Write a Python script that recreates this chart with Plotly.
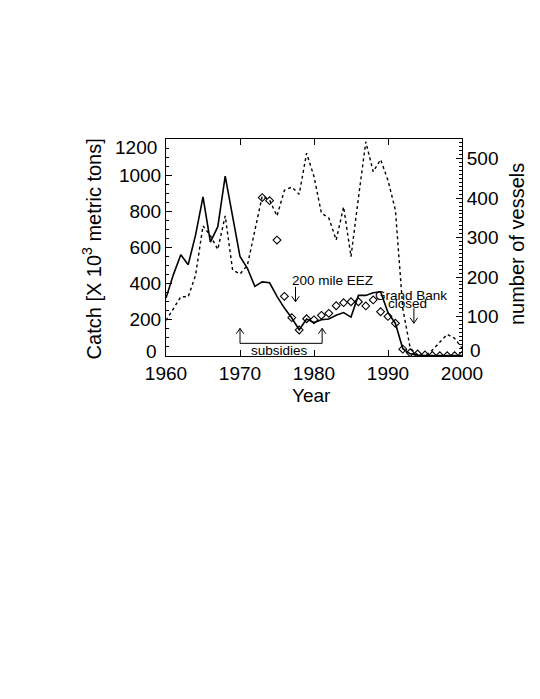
import plotly.graph_objects as go

# ---- data ----
years = list(range(1960, 2001))
catch_line = [320, 450, 560, 505, 670, 880, 630, 715, 995, 770,
              550, 485, 385, 410, 405, 330, 265, 210, 145, 205,
              185, 200, 205, 225, 240, 215, 335, 335, 350, 355,
              240, 180, 40, 12, 5, 3, 3, 3, 3, 3, 3]
vessels = [90, 120, 150, 150, 205, 330, 305, 270, 355, 218,
           208, 230, 320, 405, 395, 355, 420, 428, 410, 514,
           455, 362, 350, 294, 378, 252, 400, 543, 467, 498,
           445, 370, 120, 20, 3, 0, 15, 35, 55, 45, 20]
diamond_years = list(range(1973, 2001))
catch_diamonds = [876, 859, 641, 330, 212, 144, 206, 200, 225, 236,
                  278, 295, 300, 300, 277, 310, 245, 219, 181, 38,
                  18, 11, 6, 3, 2, 2, 2, 3]

x_ticks = [1960, 1970, 1980, 1990, 2000]
left_ticks = [0, 200, 400, 600, 800, 1000, 1200]
right_ticks = [0, 100, 200, 300, 400, 500]

FONT = "Liberation Sans, Arial, Helvetica, sans-serif"

fig = go.Figure()
fig.add_trace(go.Scatter(x=years, y=catch_line, mode="lines",
                         line=dict(color="black", width=1.6), yaxis="y"))
fig.add_trace(go.Scatter(x=years, y=vessels, mode="lines",
                         line=dict(color="black", width=1.4, dash="dot"), yaxis="y2"))
fig.add_trace(go.Scatter(x=diamond_years, y=catch_diamonds, mode="markers",
                         marker=dict(symbol="diamond-open", size=6, color="black",
                                     line=dict(width=1.1)), yaxis="y"))

# annotation anchors (data coordinates of the left axis)
EEZ_X, EEZ_TOP, EEZ_TIP = 1977.5, 383, 300
GB_X, GB_TOP, GB_TIP = 1993.5, 265, 181
SUB_L, SUB_R, SUB_LOW, SUB_TIP = 1970.0, 1981.1, 70, 153
HEAD_DX, HEAD_DY = 0.5, 30

shapes = []
def arrow(x, y_tail, y_tip):
    shapes.append(dict(type="line", xref="x", yref="y", x0=x, x1=x,
                       y0=y_tail, y1=y_tip, line=dict(color="black", width=1)))
    wy = y_tip + HEAD_DY if y_tail > y_tip else y_tip - HEAD_DY
    shapes.append(dict(type="path", xref="x", yref="y",
                       path=f"M {x - HEAD_DX},{wy} L {x},{y_tip} L {x + HEAD_DX},{wy}",
                       line=dict(color="black", width=1)))

arrow(EEZ_X, EEZ_TOP, EEZ_TIP)
arrow(GB_X, GB_TOP, GB_TIP)
arrow(SUB_L, SUB_LOW, SUB_TIP)
arrow(SUB_R, SUB_LOW, SUB_TIP)
shapes.append(dict(type="line", xref="x", yref="y", x0=SUB_L, x1=SUB_R,
                   y0=SUB_LOW, y1=SUB_LOW, line=dict(color="black", width=1)))

ann = []
def label(text, x, y, size=13.5, xanchor="center"):
    ann.append(dict(x=x, y=y, xref="x", yref="y", text=text, showarrow=False,
                    xanchor=xanchor, yanchor="middle",
                    font=dict(family=FONT, size=size, color="black")))

label("200 mile EEZ", 1982.5, 415)
label("Grand Bank", 1993.1, 337)
label("closed", 1992.7, 288)
label("subsidies", 1975.4, 29)

def paper_text(text, x, y, size, xanchor="center", angle=0):
    ann.append(dict(x=x, y=y, xref="paper", yref="paper", text=text,
                    textangle=angle, showarrow=False, xanchor=xanchor,
                    yanchor="middle", font=dict(family=FONT, size=size, color="black")))

# axis titles
paper_text("Catch [X 10<sup>3</sup> metric tons]", -0.252, 0.493, 20, angle=-90)
paper_text("number of vessels", 1.186, 0.516, 20, angle=-90)
paper_text("Year", 0.492, -0.18, 19)
# end tick labels nudged inward, as in the original
paper_text("0", -0.0236, 0.023, 19, xanchor="right")
paper_text("1200", -0.0236, 0.963, 19, xanchor="right")
paper_text("0", 1.02, 0.024, 19, xanchor="left")

fig.update_layout(
    width=540, height=699,
    margin=dict(l=158, r=86, t=131, b=351),
    paper_bgcolor="white", plot_bgcolor="white",
    showlegend=False,
    font=dict(family=FONT, size=19, color="black"),
    annotations=ann, shapes=shapes,
    xaxis=dict(range=[1960, 2000], tickvals=x_ticks, ticks="inside", ticklen=6,
               tickwidth=1, tickcolor="black", showline=True, linecolor="black",
               linewidth=1, mirror="ticks", showgrid=False, zeroline=False,
               tickfont=dict(size=19)),
    yaxis=dict(range=[0, 1200], tickvals=left_ticks,
               ticktext=[""] + [str(v) for v in left_ticks[1:-1]] + [""],
               ticks="inside", ticklen=6,
               tickwidth=1, tickcolor="black", showline=True, linecolor="black",
               linewidth=1, showgrid=False, zeroline=False,
               minor=dict(dtick=50, ticks="inside", ticklen=3, tickcolor="black"),
               tickfont=dict(size=19)),
    yaxis2=dict(range=[0, 550], tickvals=right_ticks,
                ticktext=[""] + [str(v) for v in right_ticks[1:]],
                overlaying="y", side="right",
                ticks="inside", ticklen=6, tickwidth=1, tickcolor="black",
                showline=True, linecolor="black", linewidth=1, showgrid=False,
                zeroline=False,
                minor=dict(dtick=10, ticks="inside", ticklen=3, tickcolor="black"),
                tickfont=dict(size=19)),
)

fig.write_html("out.html")
